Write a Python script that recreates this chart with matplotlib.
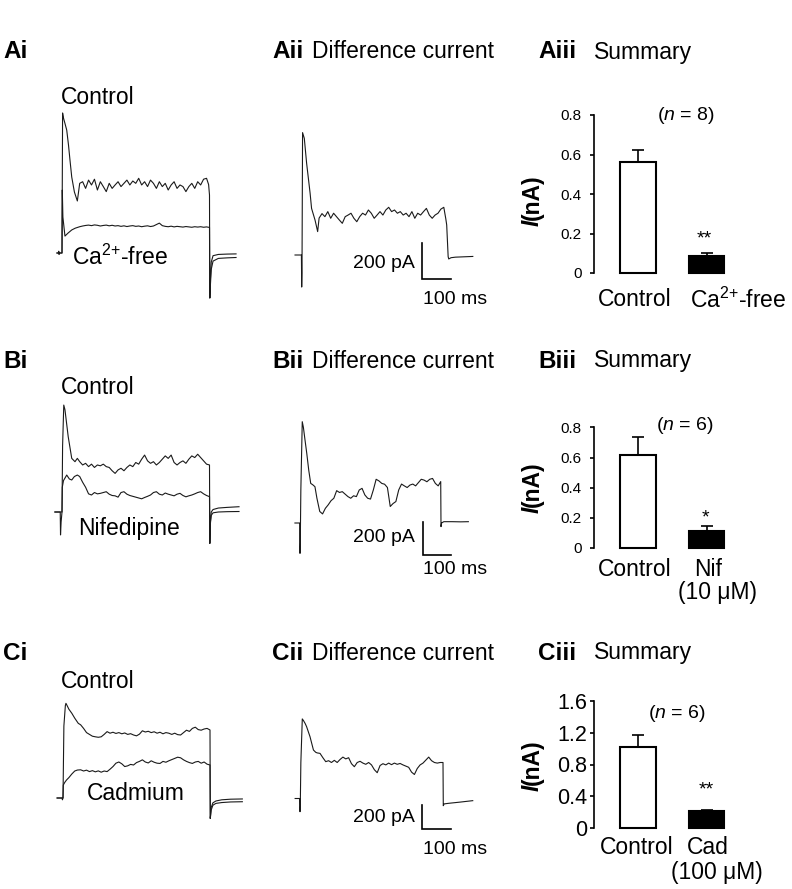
import numpy as np
import matplotlib
matplotlib.use('Agg')
import matplotlib.pyplot as plt

plt.rcParams['font.family'] = ['Liberation Sans', 'DejaVu Sans']
plt.rcParams['mathtext.fontset'] = 'custom'
plt.rcParams['mathtext.rm'] = 'Liberation Sans'
plt.rcParams['mathtext.it'] = 'Liberation Sans:italic'
plt.rcParams['mathtext.bf'] = 'Liberation Sans:bold'

# ---- trace data: time (ms) and current (pA) ----
# plateau samples every 10 ms from 60 to 490 ms, onset / tail as (t, I) pairs
plateau_t = np.arange(60, 500, 10)

ai_ctrl_on = [(-17, 0), (-12, 0), (-11, 10), (-10, -8), (-9, 0), (0, 0), (1, 400), (2, 778), (5, 750),
              (10, 720), (16, 683), (22, 600), (27, 517), (33, 422), (42, 339), (52, 289)]
ai_ctrl = [387, 396, 359, 405, 378, 410, 350, 396, 369, 341,
           387, 359, 378, 396, 369, 387, 405, 378, 400, 387,
           415, 378, 396, 369, 405, 387, 359, 396, 369, 387,
           350, 378, 396, 359, 378, 369, 341, 369, 387, 359,
           396, 378, 410, 415]
ai_ctrl_off = [(497, 380), (500, 322), (501, -250), (503, -150), (506, -50), (512, -15), (530, -8),
               (560, -6), (590, -5)]

ai_ca_on = [(-17, 0), (0, 0), (1, 350), (3, 200), (10, 94), (20, 110), (33, 128), (45, 138)]
ai_ca = [146, 150, 153, 155, 152, 156, 154, 150, 153, 155,
         151, 154, 150, 152, 148, 151, 147, 150, 152, 148,
         150, 146, 149, 151, 147, 150, 158, 166, 152, 148,
         146, 149, 145, 148, 146, 144, 147, 145, 143, 146,
         144, 146, 143, 145]
ai_ca_off = [(500, 142), (501, -250), (503, -180), (506, -90), (512, -45), (530, -30), (560, -27),
             (590, -25)]

aii_on = [(-23, 0), (-1, 0), (0, -178), (1, -100), (3, 680), (9, 648), (17, 509), (29, 343),
          (34, 259), (46, 194), (55, 130)]
aii = [205, 230, 213, 241, 204, 232, 213, 194, 176, 213,
       222, 232, 204, 185, 213, 232, 222, 250, 232, 204,
       222, 241, 222, 250, 265, 241, 250, 232, 241, 222,
       232, 213, 241, 204, 232, 222, 241, 259, 222, 204,
       222, 232, 255, 265]
aii_off = [(497, 200), (500, 167), (505, -9), (507, -22), (515, -15), (530, -12), (560, -10),
           (590, -8)]

bi_ctrl_on = [(-24, 0), (-6, 0), (-5, -139), (-3, -60), (0, 0), (2, 400), (6, 648), (10, 620),
              (21, 457), (33, 325), (44, 305), (52, 325)]
bi_ctrl = [305, 285, 295, 275, 290, 270, 285, 280, 290, 275,
           270, 250, 234, 255, 265, 250, 270, 285, 275, 300,
           290, 320, 345, 310, 295, 305, 285, 300, 320, 340,
           325, 345, 300, 285, 300, 310, 295, 320, 340, 330,
           350, 330, 310, 290]
bi_ctrl_off = [(500, 285), (501, -190), (503, -60), (506, 0), (512, 15), (530, 24), (560, 28),
               (600, 32)]

bi_nif_on = [(-24, 0), (0, 0), (1, 150), (5, 190), (16, 224), (25, 200), (33, 194), (42, 215),
             (52, 224)]
bi_nif = [215, 180, 150, 110, 103, 118, 110, 113, 118, 123,
          108, 100, 98, 90, 118, 123, 108, 100, 95, 90,
          85, 80, 88, 95, 103, 118, 123, 108, 103, 115,
          108, 103, 98, 108, 113, 100, 92, 98, 103, 110,
          118, 123, 110, 100]
bi_nif_off = [(500, 93), (501, -190), (503, -70), (506, -20), (512, -5), (530, 0), (560, 2),
              (600, 3)]

bii_on = [(-18, 0), (-1, 0), (0, -184), (1, -120), (3, 200), (8, 614), (12, 580), (18, 500),
          (24, 422), (31, 320), (38, 240), (45, 232), (53, 220)]
bii = [150, 70, 55, 89, 110, 135, 150, 196, 185, 190,
       175, 160, 150, 165, 160, 200, 210, 170, 150, 145,
       200, 265, 255, 240, 235, 215, 100, 118, 130, 200,
       236, 225, 215, 230, 236, 225, 245, 265, 260, 250,
       265, 270, 240, 225]
bii_off = [(499, 251), (500, -22), (502, 0), (510, 8), (540, 8), (570, 7), (597, 8)]

ci_ctrl_on = [(-20, 0), (-3, 0), (-2, -15), (0, 0), (3, 600), (8, 770), (10, 789), (14, 770),
              (20, 740), (30, 706), (40, 665), (52, 622)]
ci_ctrl = [610, 580, 545, 530, 515, 510, 506, 510, 530, 553,
           540, 548, 538, 545, 535, 542, 530, 536, 525, 518,
           532, 560, 550, 556, 545, 552, 540, 548, 535, 545,
           540, 530, 540, 528, 525, 545, 565, 555, 580, 590,
           570, 565, 575, 580]
ci_ctrl_off = [(500, 567), (501, -170), (504, -80), (510, -40), (520, -25), (540, -15), (570, -10),
               (610, -8)]

ci_cd_on = [(-20, 0), (0, 0), (1, 108), (6, 130), (12, 150), (20, 170), (30, 200), (40, 225),
            (49, 233)]
ci_cd = [235, 225, 232, 220, 228, 218, 226, 215, 225, 220,
         240, 262, 290, 300, 285, 262, 268, 280, 275, 295,
         305, 318, 300, 292, 310, 298, 290, 288, 305, 298,
         310, 320, 330, 340, 335, 318, 305, 295, 288, 300,
         305, 290, 300, 282]
ci_cd_off = [(500, 275), (501, -170), (504, -100), (510, -60), (520, -45), (540, -38), (570, -33),
             (610, -31)]

cii_on = [(-17, 0), (-1, 0), (0, -110), (1, -60), (3, 300), (8, 663), (12, 650), (18, 625),
          (23, 599), (35, 515), (47, 404), (55, 385)]
cii = [380, 376, 340, 307, 315, 300, 318, 300, 325, 345,
       330, 340, 290, 265, 300, 310, 295, 285, 300, 280,
       240, 215, 275, 290, 280, 295, 282, 295, 285, 292,
       280, 270, 260, 220, 200, 250, 280, 295, 320, 345,
       315, 300, 295, 300]
cii_off = [(500, 300), (501, -60), (504, -45), (520, -40), (560, -30), (604, -18)]

# ---- summary data (nA) ----
aiii_means = [0.56, 0.085]
aiii_err = [0.063, 0.015]
biii_means = [0.62, 0.112]
biii_err = [0.115, 0.03]
ciii_means = [1.02, 0.21]
ciii_err = [0.15, 0.012]


def build(onset, plateau, offset):
    t = [p[0] for p in onset] + list(plateau_t) + [p[0] for p in offset]
    i = [p[1] for p in onset] + list(plateau) + [p[1] for p in offset]
    return np.array(t), np.array(i)


W, H = 792, 889
fig = plt.figure(figsize=(W / 100, H / 100), dpi=100)


def txt(x, y, s, size=16.5, ha='left', va='center', **kw):
    fig.text(x / W, 1 - y / H, s, fontsize=size, ha=ha, va=va, **kw)


def trace_axes(box, x0, y0, sx, sy):
    # box in pixels (left, top, width, height); x0/y0 = pixel of t=0, I=0
    left, top, w, h = box
    ax = fig.add_axes([left / W, 1 - (top + h) / H, w / W, h / H])
    ax.set_xlim((left - x0) / sx, (left + w - x0) / sx)
    ax.set_ylim((y0 - (top + h)) / sy, (y0 - top) / sy)
    ax.axis('off')
    return ax


def plot_traces(ax, traces):
    for tr in traces:
        t, i = build(*tr)
        ax.plot(t, i, color='#1a1a1a', lw=0.8)


def scale_bar(ax, t0, i0):
    ax.plot([t0, t0, t0 + 100], [i0 + 200, i0, i0], color='black', lw=1.2,
            solid_joinstyle='miter')


def bar_axes(top, bottom, ymax, ticks, ticklabels, means, errs, fill, tsize, tpad):
    c0, step = 638, 68.5
    left, right = 594, 775
    ax = fig.add_axes([left / W, 1 - bottom / H, (right - left) / W, (bottom - top) / H])
    ax.set_xlim((left - c0) / step, (right - c0) / step)
    ax.set_ylim(0, ymax)
    x = [0, 1]
    ax.errorbar(x, means, yerr=[[0, 0], errs], fmt='none', ecolor='black', elinewidth=1.2,
                capsize=4, capthick=1.2, zorder=1)
    ax.bar(x, means, width=0.52, color=fill, edgecolor='black', linewidth=1.5, zorder=2,
           clip_on=False)
    for s in ['top', 'right', 'bottom']:
        ax.spines[s].set_visible(False)
    ax.spines['left'].set_linewidth(1.2)
    ax.set_xticks([])
    ax.set_yticks(ticks)
    ax.set_yticklabels(ticklabels)
    ax.tick_params(axis='y', direction='out', length=3, width=1.2, labelsize=tsize, pad=tpad)
    ax.patch.set_alpha(0)
    return ax


def ylabel(x, yc):
    # "I" bold italic below "(nA)" bold, rotated
    a = yc + 20
    txt(x, a, '(nA)', ha='center', va='bottom', rotation=90, fontweight='bold')
    txt(x, a, 'I', ha='center', va='top', rotation=90, fontweight='bold', style='italic')


CA_FREE = 'Ca$^{2{+}}$-free'

# ---- row A ----
ax = trace_axes((40, 100, 220, 210), 62, 253, 0.295, 0.18)
plot_traces(ax, [(ai_ctrl_on, ai_ctrl, ai_ctrl_off), (ai_ca_on, ai_ca, ai_ca_off)])
ax = trace_axes((280, 110, 210, 190), 301.7, 255, 0.29, 0.18)
plot_traces(ax, [(aii_on, aii, aii_off)])
scale_bar(ax, 416, -133)
bar_axes(115, 273, 0.8, [0, 0.2, 0.4, 0.6, 0.8], ['0', '0.2', '0.4', '0.6', '0.8'],
         aiii_means, aiii_err, ['white', 'black'], 11, 6)

# ---- row B ----
ax = trace_axes((40, 390, 220, 170), 62, 512, 0.295, 0.165)
plot_traces(ax, [(bi_ctrl_on, bi_ctrl, bi_ctrl_off), (bi_nif_on, bi_nif, bi_nif_off)])
ax = trace_axes((280, 400, 210, 170), 300, 523, 0.282, 0.165)
plot_traces(ax, [(bii_on, bii, bii_off)])
scale_bar(ax, 435, -194)
bar_axes(427.5, 547.5, 0.8, [0, 0.2, 0.4, 0.6, 0.8], ['0', '0.2', '0.4', '0.6', '0.8'],
         biii_means, biii_err, ['white', 'black'], 11, 6)

# ---- row C ----
ax = trace_axes((40, 690, 220, 145), 63, 798, 0.294, 0.12)
plot_traces(ax, [(ci_ctrl_on, ci_ctrl, ci_ctrl_off), (ci_cd_on, ci_cd, ci_cd_off)])
ax = trace_axes((280, 700, 210, 140), 300, 798.5, 0.286, 0.12)
plot_traces(ax, [(cii_on, cii, cii_off)])
scale_bar(ax, 427, -257)
bar_axes(701, 828, 1.6, [0, 0.4, 0.8, 1.2, 1.6], ['0', '0.4', '0.8', '1.2', '1.6'],
         ciii_means, ciii_err, ['white', 'black'], 15.5, 2)

# ---- headers ----
for y, r in [(52, 'A'), (361, 'B'), (653, 'C')]:
    txt(3, y, r + 'i', size=17.5, fontweight='bold')
    txt(272, y, r + 'ii', size=17.5, fontweight='bold')
    txt(312, y, 'Difference current')
    txt(538, y, r + 'iii', size=17.5, fontweight='bold')
    txt(594, y, 'Summary')

# ---- trace labels ----
txt(98, 98, 'Control', ha='center')
txt(72, 257, CA_FREE)
txt(98, 387, 'Control', ha='center')
txt(78, 528, 'Nifedipine')
txt(98, 682, 'Control', ha='center')
txt(87, 793, 'Cadmium')

for yv, yh in [(263, 299), (537, 570), (817, 850)]:
    txt(415, yv, '200 pA', size=14, ha='right')
    txt(423, yh, '100 ms', size=14)

# ---- summary labels ----
txt(686, 115, '($n$ = 8)', size=14, ha='center')
txt(685, 425, '($n$ = 6)', size=14, ha='center')
txt(677, 714, '($n$ = 6)', size=14, ha='center')
txt(704, 243, '**', size=14, ha='center', va='baseline')
txt(705, 522, '*', size=14, ha='center', va='baseline')
txt(706, 794, '**', size=14, ha='center', va='baseline')

txt(635, 300, 'Control', ha='center')
txt(738, 300, CA_FREE, ha='center')
txt(635, 569, 'Control', ha='center')
txt(708, 569, 'Nif', ha='center')
txt(717, 592, '(10 \u03bcM)', ha='center')
txt(637, 848, 'Control', ha='center')
txt(708, 848, 'Cad', ha='center')
txt(717, 872, '(100 \u03bcM)', ha='center')

ylabel(532, 200)
ylabel(532, 487)
ylabel(532, 765)

fig.savefig('out.png', dpi=100)
